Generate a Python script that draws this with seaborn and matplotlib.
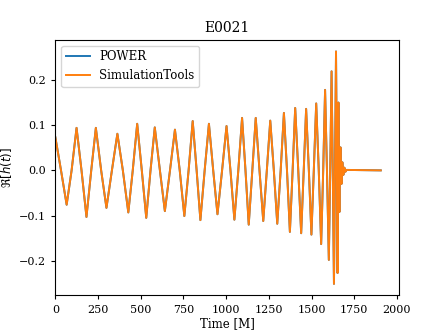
import matplotlib
matplotlib.use("Agg")
import matplotlib.pyplot as plt
import seaborn as sns
import pandas as pd

# Extrema of Re[h(t)] (time in M, value)
t_extrema = [0, 66, 124, 182, 237, 299, 363, 427, 479, 532, 582, 641, 700,
             755, 804, 849, 899, 949, 1002, 1048, 1093, 1132, 1173, 1217,
             1258, 1299, 1338, 1373, 1404, 1439, 1468, 1499, 1527, 1556,
             1579, 1601, 1617, 1631, 1643, 1652, 1657, 1663, 1669, 1675,
             1680, 1686, 1692, 1698, 1705, 1905]
h_extrema = [0.073, -0.076, 0.094, -0.103, 0.094, -0.083, 0.081, -0.093,
             0.103, -0.105, 0.095, -0.090, 0.090, -0.101, 0.109, -0.110,
             0.103, -0.097, 0.098, -0.109, 0.116, -0.120, 0.116, -0.112,
             0.110, -0.118, 0.127, -0.136, 0.138, -0.139, 0.136, -0.142,
             0.148, -0.163, 0.178, -0.198, 0.219, -0.251, 0.263, -0.227,
             0.150, -0.092, 0.051, -0.030, 0.018, -0.010, 0.006, -0.003,
             0.001, 0.000]
# Zero crossings
t_zero = [33, 95, 153, 210, 268, 331, 395, 453, 506, 557, 612, 671, 728,
          780, 827, 874, 924, 976, 1025, 1071, 1113, 1153, 1195, 1238, 1279,
          1319, 1356, 1389, 1422, 1454, 1484, 1513, 1542, 1568, 1590, 1609,
          1624, 1637, 1648, 1655, 1660, 1666, 1672, 1678]

series_labels = ["POWER", "SimulationTools"]
title = "E0021"
x_ticks = [0, 250, 500, 750, 1000, 1250, 1500, 1750, 2000]
y_ticks = [-0.2, -0.1, 0.0, 0.1, 0.2]

wave = pd.DataFrame({
    "t": list(t_extrema) + list(t_zero),
    "h": list(h_extrema) + [0.0] * len(t_zero),
}).sort_values("t").reset_index(drop=True)

plt.rcParams["font.family"] = ["DejaVu Serif"]

fig, ax = plt.subplots(figsize=(4.43, 3.32), dpi=100)
colors = ["#1f77b4", "#ff7f0e"]
for lab, col in zip(series_labels, colors):
    sns.lineplot(data=wave, x="t", y="h", ax=ax, color=col, lw=1.4,
                 label=lab, sort=True, estimator=None)

ax.set_xlim(0, 2010)
ax.set_xticks(x_ticks)
ax.set_yticks(y_ticks)
ax.tick_params(labelsize=8, length=3)
ax.set_xlabel("Time [M]", fontsize=8.5, labelpad=2)
ax.set_ylabel(r"$\Re[h(t)]$", fontsize=8.5)
ax.set_title(title, fontsize=10)
ax.legend(loc="upper left", fontsize=8.5)

fig.savefig("out.png", dpi=100)
